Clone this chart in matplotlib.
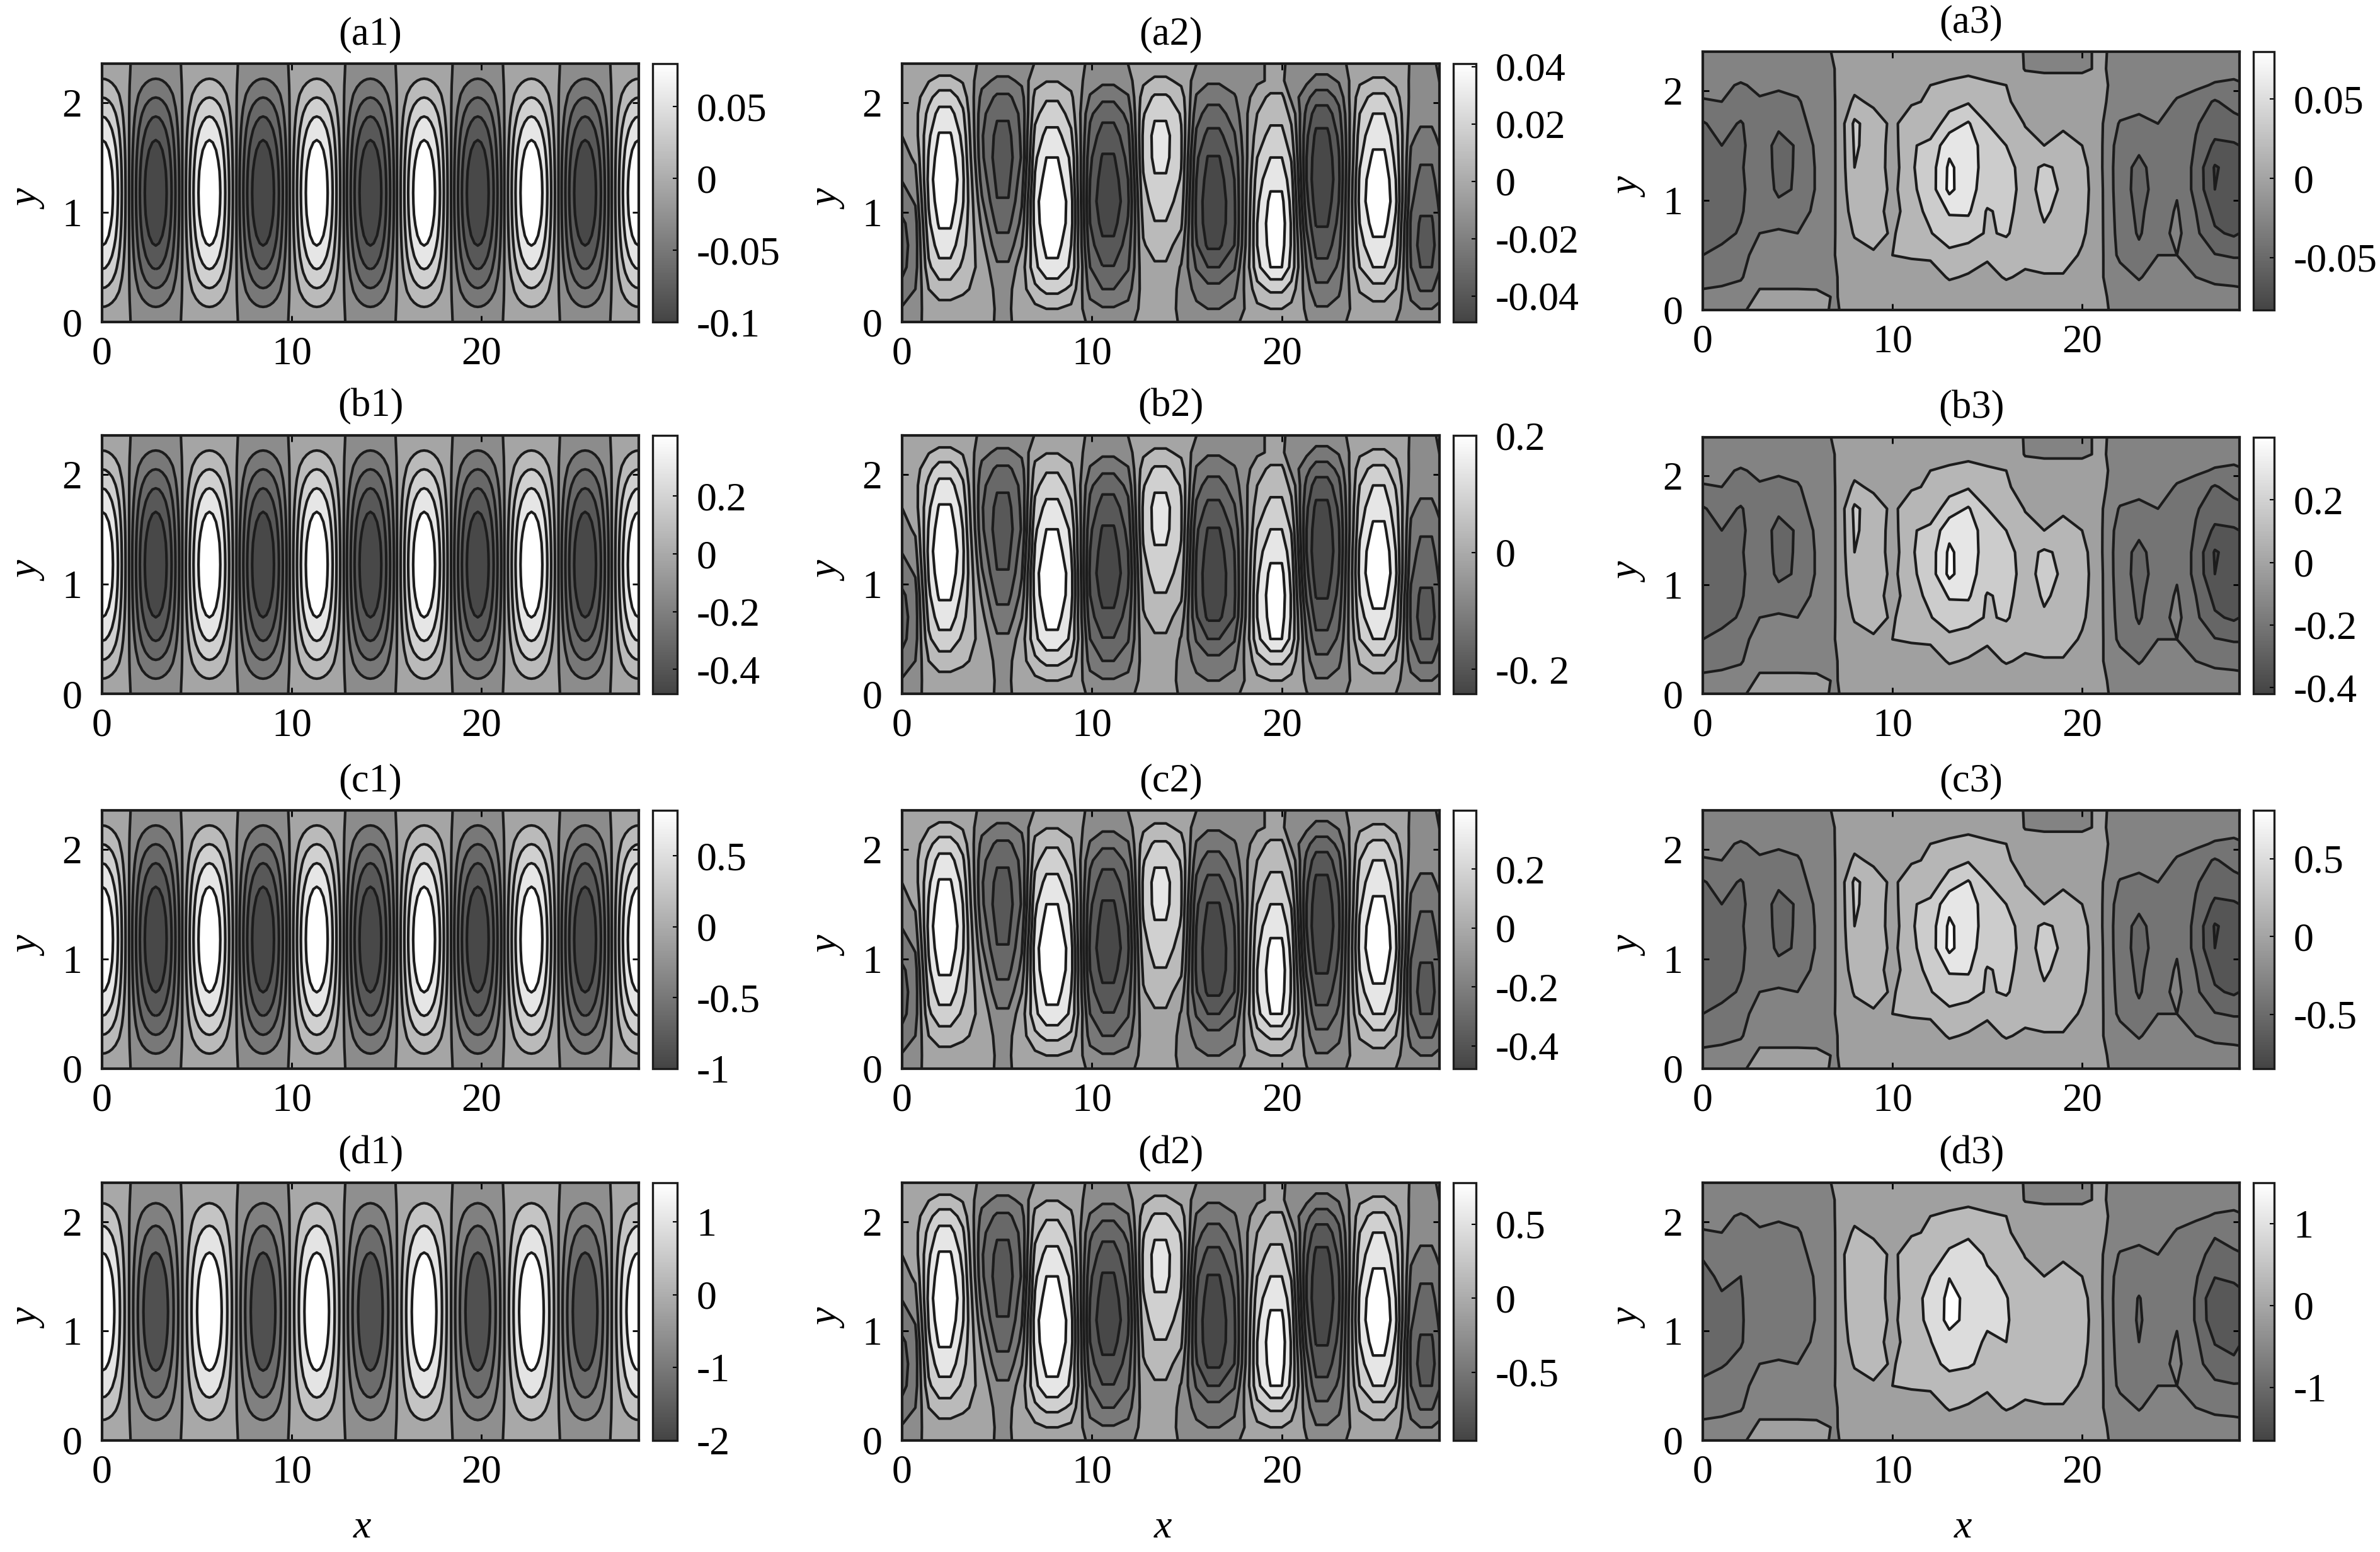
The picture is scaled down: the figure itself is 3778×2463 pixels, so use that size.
import numpy as np
from matplotlib import pyplot as plt
from matplotlib.cm import ScalarMappable
from matplotlib.colors import LinearSegmentedColormap, Normalize

plt.rcParams['font.family'] = ['Liberation Serif', 'DejaVu Serif']
plt.rcParams['axes.unicode_minus'] = False

W, H = 3778, 2463

x_shape_1 = [1, .98, .92, .83, .71, .56, .38, .2, 0, -.2, -.38, -.56, -.71, -.83, -.92, -.98,
             -1, -.98, -.92, -.83, -.71, -.56, -.38, -.2, 0, .2, .38, .56, .71, .83, .92, .98] * 5 + [1]
y_shape_1 = [.12, .16, .26, .383, .5, .61, .707, .793, .866, .924, .966, .99, 1,
             .99, .966, .924, .866, .793, .707, .61, .5, .383, .26, .16, .12]
x_grid_1 = np.linspace(0, 28.3, len(x_shape_1))
y_grid_1 = np.linspace(0, 2.356, len(y_shape_1))

# wiersze siatki dla kolumn 2 i 3
y_rows = [0, .12, .3, .5, .7, .9, 1.1, 1.3, 1.5, 1.7, 1.9, 2.05, 2.2, 2.356]

# kolumna 2, srodek kazdego listka rysowany na dwoch x (plaski wierzcholek)
x_grid_2 = [0, .7, 1.4, 1.95, 2.55, 3.2, 4.2, 5.0, 5.6, 6.3, 7.0, 7.6, 8.2, 8.9, 9.9, 10.55, 11.15,
            11.9, 12.7, 13.3, 13.9, 14.7, 15.5, 16.1, 16.7, 17.5, 18.7, 19.4, 20.0, 20.5, 21.3, 21.8,
            22.4, 23.0, 24.1, 24.8, 25.4, 26.0, 26.8, 27.3, 27.9, 28.3]
repeat_2 = [1, 1, 1, 2, 1, 1, 2, 1, 1, 2, 1, 1, 2, 1, 1, 2, 1, 1, 2, 1, 1, 2, 1, 1, 2, 1, 1, 2, 1, 1, 2, 1]
field_2 = [
    [-.08, -.05, .03, .05, .06, .06, -.03, .04, .06, .06, .05, -.03, -.06, -.05, .04, .05,
     -.03, -.05, -.06, -.03, .05, .06, .04, -.005, -.06, -.04, .04, .05, -.012, -.05, -.06, -.05],
    [-.18, -.1, .08, .12, .1, .08, -.03, .06, .15, .2, .15, -.12, -.18, -.14, .05, .06,
     -.05, -.16, -.2, -.14, .15, .2, .14, -.04, -.18, -.13, .09, .12, .04, -.14, -.2, -.15],
    [-.33, -.2, .2, .3, .24, .12, -.06, .12, .35, .46, .36, -.28, -.4, -.28, .07, .1,
     -.06, -.26, -.33, -.25, .32, .44, .32, -.12, -.34, -.24, .22, .33, .2, -.28, -.42, -.3],
    [-.46, -.28, .36, .53, .36, .12, -.16, .1, .55, .75, .56, -.4, -.59, -.42, .12, .17,
     -.03, -.42, -.6, -.42, .54, .8, .54, -.2, -.54, -.36, .4, .6, .38, -.4, -.6, -.42],
    [-.48, -.3, .46, .7, .46, .05, -.32, -.02, .6, .87, .6, -.52, -.75, -.5, .18, .28,
     .1, -.58, -.84, -.6, .6, .87, .58, -.3, -.69, -.46, .52, .75, .5, -.44, -.68, -.45],
    [-.44, -.28, .56, .83, .54, -.05, -.46, -.14, .68, .97, .68, -.6, -.87, -.58, .24, .39,
     .24, -.64, -.92, -.64, .6, .9, .58, -.44, -.82, -.54, .6, .88, .56, -.44, -.63, -.42],
    [-.3, -.18, .62, .93, .62, -.17, -.59, -.22, .7, 1, .68, -.64, -.95, -.64, .32, .48,
     .32, -.64, -.94, -.63, .56, .85, .54, -.54, -.91, -.6, .66, .98, .64, -.36, -.54, -.36],
    [-.19, -.08, .66, 1, .64, -.28, -.65, -.3, .62, .9, .6, -.6, -.9, -.6, .38, .58,
     .38, -.6, -.89, -.6, .5, .74, .48, -.6, -.97, -.64, .64, .95, .6, -.3, -.46, -.3],
    [-.09, .02, .62, .92, .6, -.36, -.7, -.38, .56, .8, .56, -.56, -.82, -.54, .44, .65,
     .42, -.56, -.81, -.54, .4, .6, .38, -.6, -.93, -.62, .56, .84, .54, -.24, -.37, -.24],
    [-.01, .12, .56, .82, .54, -.38, -.66, -.36, .46, .66, .44, -.46, -.7, -.46, .44, .66,
     .42, -.44, -.66, -.42, .3, .46, .26, -.56, -.85, -.56, .5, .73, .48, -.16, -.24, -.16],
    [.04, .14, .46, .67, .44, -.34, -.57, -.34, .34, .5, .32, -.36, -.53, -.34, .38, .57,
     .38, -.32, -.48, -.3, .2, .33, .14, -.46, -.7, -.46, .4, .6, .38, -.09, -.14, -.06],
    [.06, .12, .34, .5, .32, -.26, -.44, -.28, .26, .37, .24, -.22, -.35, -.22, .3, .43,
     .3, -.22, -.33, -.22, .08, .26, -.07, -.34, -.5, -.34, .32, .45, .28, -.06, -.1, -.03],
    [.08, .09, .19, .26, .18, -.14, -.24, -.16, .13, .19, .13, -.1, -.15, -.08, .16, .24,
     .15, -.1, -.17, -.12, -.04, .01, -.08, -.16, -.27, -.18, .16, .23, .15, -.04, -.08, -.01],
    [.08, .08, .07, .06, .04, -.03, -.08, -.04, -.01, .06, .04, -.03, -.05, -.01, .04, .07,
     .03, -.01, -.05, -.05, -.04, .01, -.05, -.06, -.08, -.04, .04, .07, .05, -.02, -.05, .02],
]

# kolumna 3
x_grid_3 = [0, 1, 2, 3, 4, 5, 6, 7, 8, 9, 10, 11, 12, 13, 14, 15, 16, 17, 18, 19, 20,
            21, 22, 23, 24, 25, 26, 27, 28, 28.3]
field_3 = [
    [-.06, -.06, -.03, .03, .04, .04, .02, -.03, .06, .06, .06, .06, .06, .06, .06, .06, .06, .06, .06, .06, .06,
     .02, -.06, -.06, -.06, -.06, -.06, -.06, -.06, -.06],
    [-.16, -.14, -.1, .02, .02, .02, .01, -.02, .05, .05, .06, .06, .06, .08, .07, .06, .07, .06, .06, .06, .06,
     .01, -.06, -.08, -.07, -.07, -.09, -.11, -.14, -.15],
    [-.26, -.25, -.22, -.06, -.06, -.06, -.05, -.02, .06, .07, .08, .1, .11, .22, .18, .13, .22, .16, .18, .18, .1,
     0, -.1, -.22, -.1, -.12, -.2, -.25, -.25, -.25],
    [-.4, -.34, -.28, -.1, -.1, -.1, -.08, -.01, .12, .18, .2, .22, .23, .35, .3, .23, .3, .27, .3, .3, .17,
     .02, -.25, -.35, -.2, -.2, -.3, -.39, -.42, -.42],
    [-.5, -.46, -.38, -.2, -.17, -.2, -.15, -.01, .22, .26, .18, .3, .39, .5, .48, .38, .42, .3, .38, .33, .24,
     .02, -.28, -.42, -.28, -.15, -.36, -.57, -.63, -.6],
    [-.54, -.48, -.42, -.28, -.33, -.26, -.17, -.01, .3, .32, .1, .34, .44, .62, .63, .38, .45, .32, .42, .36, .28,
     .02, -.3, -.44, -.3, -.18, -.4, -.66, -.68, -.66],
    [-.55, -.5, -.44, -.27, -.44, -.38, -.18, -.01, .36, .36, .14, .36, .5, .85, .66, .52, .47, .34, .45, .38, .3,
     .02, -.32, -.46, -.34, -.22, -.46, -.8, -.72, -.7],
    [-.58, -.46, -.42, -.28, -.46, -.38, -.18, -.01, .4, .36, .1, .38, .5, .84, .68, .53, .46, .33, .43, .36, .28,
     .01, -.32, -.45, -.32, -.22, -.46, -.82, -.72, -.7],
    [-.5, -.4, -.44, -.28, -.47, -.38, -.16, -.01, .42, .34, .12, .38, .45, .74, .7, .5, .4, .26, .2, .24, .2,
     .01, -.3, -.36, -.27, -.2, -.42, -.64, -.62, -.6],
    [-.42, -.32, -.42, -.26, -.36, -.28, -.12, -.01, .44, .3, .16, .3, .28, .5, .62, .4, .33, .19, .1, .18, .12,
     .01, -.22, -.26, -.2, -.22, -.38, -.5, -.48, -.46],
    [-.22, -.2, -.26, -.22, -.24, -.22, -.1, -.01, .24, .16, .08, .18, .22, .32, .38, .3, .24, .08, .07, .07, .06,
     .01, -.07, -.12, -.1, -.22, -.3, -.42, -.32, -.3],
    [-.12, -.16, -.22, -.16, -.18, -.15, -.06, -.01, .14, .1, .06, .12, .2, .24, .28, .23, .2, .05, .04, .04, .04,
     .01, -.05, -.07, -.07, -.13, -.16, -.22, -.24, -.22],
    [-.08, -.09, -.1, -.09, -.1, -.09, -.05, -.01, .07, .07, .05, .07, .09, .12, .14, .12, .09, -.02, -.03, -.03, -.03,
     .005, -.06, -.06, -.06, -.07, -.09, -.11, -.13, -.13],
    [-.07, -.07, -.07, -.07, -.07, -.07, -.05, 0, .05, .05, .05, .05, .05, .05, .06, .05, .05, -.02, -.03, -.03, -.03,
     .005, -.05, -.05, -.05, -.05, -.06, -.06, -.06, -.06],
]
# komorki w panelu d3 inne niz w a3 (wiersz, kolumna, wartosc)
d3_cells = [(6, 4, -.41), (7, 4, -.41), (8, 4, -.41), (5, 2, -.46), (6, 2, -.47), (7, 2, -.46)]

panel_names = [['(a1)', '(a2)', '(a3)'], ['(b1)', '(b2)', '(b3)'],
               ['(c1)', '(c2)', '(c3)'], ['(d1)', '(d2)', '(d3)']]

# colorbar ranges and ticks
bar_min = [[-.1, -.049, -.083], [-.484, -.242, -.42], [-1, -.478, -.85], [-2, -.96, -1.65]]
bar_max = [[.08, .041, .08], [.41, .2, .4], [.82, .4, .81], [1.54, .78, 1.5]]
bar_ticks = [[[-.1, -.05, 0, .05], [-.04, -.02, 0, .02, .04], [-.05, 0, .05]],
             [[-.4, -.2, 0, .2], [-.2, 0, .2], [-.4, -.2, 0, .2]],
             [[-1, -.5, 0, .5], [-.4, -.2, 0, .2], [-.5, 0, .5]],
             [[-2, -1, 0, 1], [-.5, 0, .5], [-1, 0, 1]]]
bar_labels = [[['-0.1', '-0.05', '0', '0.05'], ['-0.04', '-0.02', '0', '0.02', '0.04'], ['-0.05', '0', '0.05']],
              [['-0.4', '-0.2', '0', '0.2'], ['-0. 2', '0', '0.2'], ['-0.4', '-0.2', '0', '0.2']],
              [['-1', '-0.5', '0', '0.5'], ['-0.4', '-0.2', '0', '0.2'], ['-0.5', '0', '0.5']],
              [['-2', '-1', '0', '1'], ['-0.5', '0', '0.5'], ['-1', '0', '1']]]

# poziomy konturow i kolory pasm
levels_std = [-1.5, -.8, -.6, -.4, -.2, -.012, .2, .4, .6, .8, 1.5]
colors_std = ['#484848', '#585858', '#686868', '#787878', '#8c8c8c',
              '#a5a5a5', '#bababa', '#d0d0d0', '#e6e6e6', '#ffffff']
levels_d1 = [-1.5, -.75, -.5, -.25, -.012, .25, .5, .75, 1.5]
colors_d1 = ['#505050', '#6c6c6c', '#808080', '#8f8f8f',
             '#a8a8a8', '#c4c4c4', '#e4e4e4', '#ffffff']
levels_3 = [-1.5, -.8, -.6, -.4, -.2, -.012, .2, .4, .6, .8, 1.5]
colors_3 = ['#484848', '#555555', '#666666', '#747474', '#838383',
            '#a0a0a0', '#b6b6b6', '#cccccc', '#e6e6e6', '#ffffff']
levels_d3 = [-1.5, -.65, -.44, -.2, -.012, .2, .45, .75, 1.5]
colors_d3 = ['#585858', '#686868', '#787878', '#838383',
             '#a0a0a0', '#bababa', '#dcdcdc', '#ffffff']

# pozycje paneli w pikselach (lewo, prawo)
col_left = [162, 1432, 2703]
col_right = [1014, 2285, 3555]
bar_left = [1036, 2307, 3577]
bar_right = [1075, 2343, 3610]
row_top = [[101, 101, 82], [691, 691, 694], [1286, 1286, 1286], [1877, 1877, 1877]]
row_bottom = [[511, 511, 492], [1101, 1101, 1101], [1696, 1696, 1696], [2286, 2286, 2286]]

bar_cmap = LinearSegmentedColormap.from_list('szary', ['#444444', '#ffffff'])

fig = plt.figure(figsize=(W / 100, H / 100), dpi=100, facecolor='white')


def rect(x0, x1, y0, y1):
    return [x0 / W, 1 - y1 / H, (x1 - x0) / W, (y1 - y0) / H]


for r in range(4):
    for c in range(3):
        ax = fig.add_axes(rect(col_left[c], col_right[c], row_top[r][c], row_bottom[r][c]))
        amp = max(abs(bar_min[r][c]), abs(bar_max[r][c]))
        if c == 0:
            x, y = x_grid_1, y_grid_1
            z = np.outer(y_shape_1, x_shape_1)
            lev, cols = (levels_d1, colors_d1) if r == 3 else (levels_std, colors_std)
        elif c == 1:
            x, y = x_grid_2, y_rows
            z = np.repeat(np.array(field_2), repeat_2, axis=1)
            lev, cols = levels_std, colors_std
        else:
            x, y = x_grid_3, y_rows
            z = np.array(field_3)
            lev, cols = levels_3, colors_3
            if r == 3:
                lev, cols = levels_d3, colors_d3
                for i, j, v in d3_cells:
                    z[i, j] = v
        lev = np.array(lev) * amp
        ax.contourf(x, y, z * amp, levels=lev, colors=cols)
        ax.contour(x, y, z * amp, levels=lev[1:-1], colors='#1c1c1c', linewidths=3, linestyles='solid')
        ax.set_xlim(0, 28.3)
        ax.set_ylim(0, 2.356)
        ax.set_xticks([0, 10, 20])
        ax.set_yticks([0, 1, 2])
        ax.tick_params(direction='in', length=7, width=2, top=True, right=True, labelsize=46, pad=23)
        ax.tick_params(axis='x', pad=16)
        for s in ax.spines.values():
            s.set_linewidth(3)
            s.set_color('#1c1c1c')
        ax.set_title(panel_names[r][c], fontsize=45, pad=22)
        ax.set_ylabel('y', style='italic', fontsize=46)
        ax.yaxis.set_label_coords(-0.1, 0.47)
        if r == 3:
            ax.set_xlabel('x', style='italic', fontsize=46)
            ax.xaxis.set_label_coords(0.485, -0.27)

        cax = fig.add_axes(rect(bar_left[c], bar_right[c], row_top[r][c], row_bottom[r][c]))
        sm = ScalarMappable(norm=Normalize(bar_min[r][c], bar_max[r][c]), cmap=bar_cmap)
        cb = fig.colorbar(sm, cax=cax)
        cb.set_ticks(bar_ticks[r][c])
        cb.set_ticklabels(bar_labels[r][c])
        cb.ax.tick_params(direction='in', length=5, width=1.5, labelsize=46, pad=22)
        cb.outline.set_linewidth(2.4)
        cb.outline.set_edgecolor('#1c1c1c')

fig.savefig('out.png', dpi=100)
